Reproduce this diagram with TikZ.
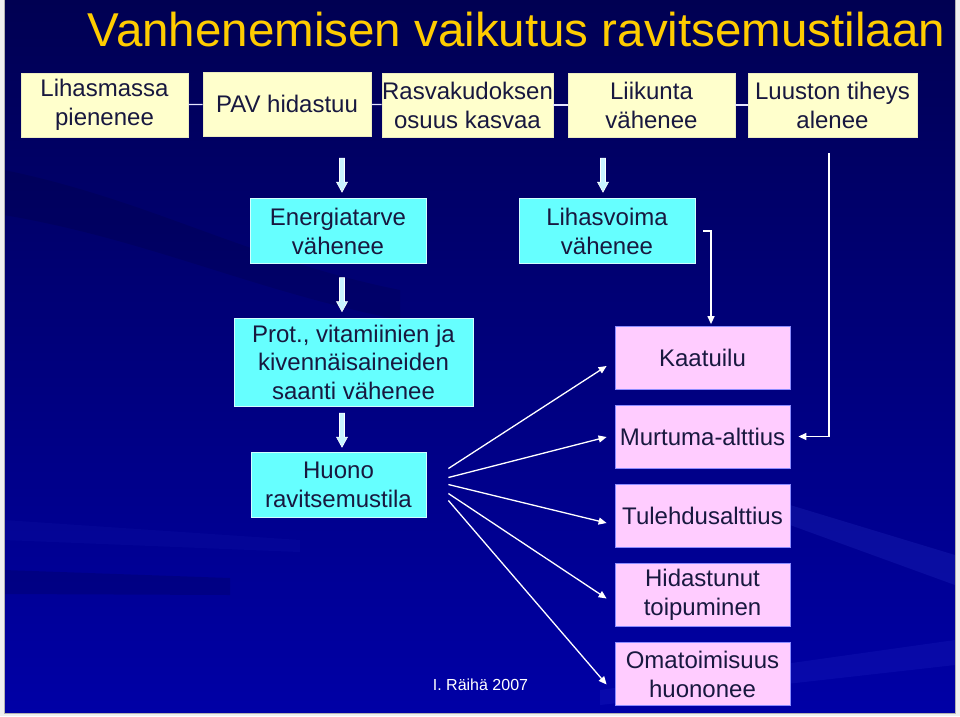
\documentclass[tikz,border=0pt]{standalone}
\usepackage{fontspec}
\setmainfont{Liberation Sans}
\usetikzlibrary{arrows.meta,calc}
\definecolor{navytext}{HTML}{18183F}
\definecolor{yboxc}{HTML}{FFFFCC}
\definecolor{cboxc}{HTML}{66FFFF}
\definecolor{pboxc}{HTML}{FFCCFF}
\definecolor{titlec}{HTML}{FFCC00}
\definecolor{bgtop}{HTML}{000052}
\definecolor{bgbot}{HTML}{0000A6}
\definecolor{streakc}{HTML}{5A6CFF}
\definecolor{arrowfill}{HTML}{C8F4FF}
\newcommand{\blkarrow}[2]{\path let \p1=(#1), \p2=(#2) in [draw=white, fill=arrowfill, line width=0.6pt]
  (\x1-2.5pt,\y1) -- (\x1+2.5pt,\y1) -- (\x1+2.5pt,\y2+10pt) -- (\x1+5.5pt,\y2+10pt) -- (\x1,\y2)
  -- (\x1-5.5pt,\y2+10pt) -- (\x1-2.5pt,\y2+10pt) -- cycle;}
\begin{document}
\begin{tikzpicture}[x=1pt,y=-1pt,
  boxtext/.style={font=\fontsize{24}{29}\selectfont, text=navytext, align=center, inner sep=0pt},
  ybox/.style={boxtext, fill=yboxc, draw=yboxc!85!gray, line width=0.6pt, minimum height=64pt},
  cbox/.style={boxtext, fill=cboxc, draw=white!70!cboxc, line width=0.8pt},
  pbox/.style={boxtext, fill=pboxc, draw=blue!45!white, line width=0.8pt, minimum width=175pt, minimum height=63pt},
  tline/.style={draw=white!90!blue, line width=1.2pt},
  conn/.style={draw=white, line width=1.3pt, -{Triangle[length=8pt,width=7pt]}},
  fan/.style={draw=white, line width=1.3pt, -{Triangle[length=8pt,width=7pt]}}
]
\useasboundingbox (0,0) rectangle (960,716);
% background
\fill[white!88!gray] (0,0) rectangle (960,716);
\shade[top color=bgtop, bottom color=bgbot] (4,0) rectangle (955,713);
\fill[streakc, opacity=0.12] (790,505) -- (955,555) -- (955,585) -- (790,525) -- cycle;
\fill[streakc, opacity=0.09] (600,690) -- (955,640) -- (955,665) -- (600,705) -- cycle;
\fill[streakc, opacity=0.05] (4,520) -- (300,540) -- (300,552) -- (4,540) -- cycle;
\fill[black, opacity=0.12] (4,570) -- (230,578) -- (230,595) -- (4,594) -- cycle;
\fill[black, opacity=0.10] (4,170) .. controls (150,200) and (250,260) .. (400,290) -- (400,320) .. controls (250,290) and (150,240) .. (4,215) -- cycle;
\draw[gray!60, line width=0.8pt] (4,0) -- (4,713) -- (955,713) -- (955,0);

% title
\node[font=\fontsize{47.5}{50}\selectfont, text=titlec, inner sep=0pt] (title) at (516.5,30) {Vanhenemisen vaikutus ravitsemustilaan};

% top row
\node[ybox, minimum width=167pt] (lih) at (104.5,105) {Lihasmassa\\pienenee};
\node[ybox, minimum width=168pt] (pav) at (287,104) {PAV hidastuu};
\node[ybox, minimum width=171pt] (ras) at (467.5,105) {Rasvakudoksen\\osuus kasvaa};
\node[ybox, minimum width=167pt] (lii) at (651.5,105) {Liikunta\\vähenee};
\node[ybox, minimum width=169pt] (luu) at (832.5,105) {Luuston tiheys\\alenee};
\draw[tline] (lih) -- (pav);
\draw[tline] (pav) -- (ras);
\draw[tline] (ras) -- (lii);
\draw[tline] (lii) -- (luu);

% cyan boxes
\node[cbox, minimum width=176pt, minimum height=65pt] (ene) at (338,231) {Energiatarve\\vähenee};
\node[cbox, minimum width=176pt, minimum height=65pt] (lihv) at (607,231) {Lihasvoima\\vähenee};
\node[cbox, minimum width=239pt, minimum height=88pt, font=\fontsize{24}{28.5}\selectfont] (prot) at (353.5,362) {Prot., vitamiinien ja\\kivennäisaineiden\\saanti vähenee};
\node[cbox, minimum width=175pt, minimum height=65pt] (huo) at (338.5,485) {Huono\\ravitsemustila};

% pink boxes
\node[pbox] (kaa) at (702.5,357.5) {Kaatuilu};
\node[pbox] (mur) at (702.5,436.5) {Murtuma-alttius};
\node[pbox] (tul) at (702.5,515.5) {Tulehdusalttius};
\node[pbox] (hid) at (702.5,595) {Hidastunut\\toipuminen};
\node[pbox] (oma) at (702.5,674) {Omatoimisuus\\huononee};

% block arrows
\blkarrow{$(ene.north)+(4,-40)$}{$(ene.north)+(4,-6)$}
\blkarrow{$(lihv.north)+(-4,-40)$}{$(lihv.north)+(-4,-6)$}
\blkarrow{$(prot.north)+(-11.5,-40)$}{$(prot.north)+(-11.5,-6)$}
\blkarrow{$(huo.north)+(3.5,-39)$}{$(huo.north)+(3.5,-5)$}

% connectors
\draw[conn] ($(lihv.east)+(8,0)$) -| ($(kaa.north)+(8.5,-1.5)$);
\draw[conn] ($(luu.south)+(-3.5,16)$) |- ($(mur.east)+(8,0)$);

% fan
\draw[fan] ($(huo.east)+(22,-16.5)$) -- ($(kaa.west)+(-8,8.5)$);
\draw[fan] ($(huo.east)+(22,-7.5)$) -- ($(mur.west)+(-8,0.5)$);
\draw[fan] ($(huo.east)+(22,-0.5)$) -- ($(tul.west)+(-8,7.5)$);
\draw[fan] ($(huo.east)+(22,8.5)$) -- ($(hid.west)+(-8,3.5)$);
\draw[fan] ($(huo.east)+(22,15.5)$) -- ($(oma.west)+(-8,10.5)$);

% footer
\node[font=\fontsize{16}{18}\selectfont, text=white, inner sep=0pt] (foot) at (480.5,685) {I. Räihä 2007};
\end{tikzpicture}
\end{document}
